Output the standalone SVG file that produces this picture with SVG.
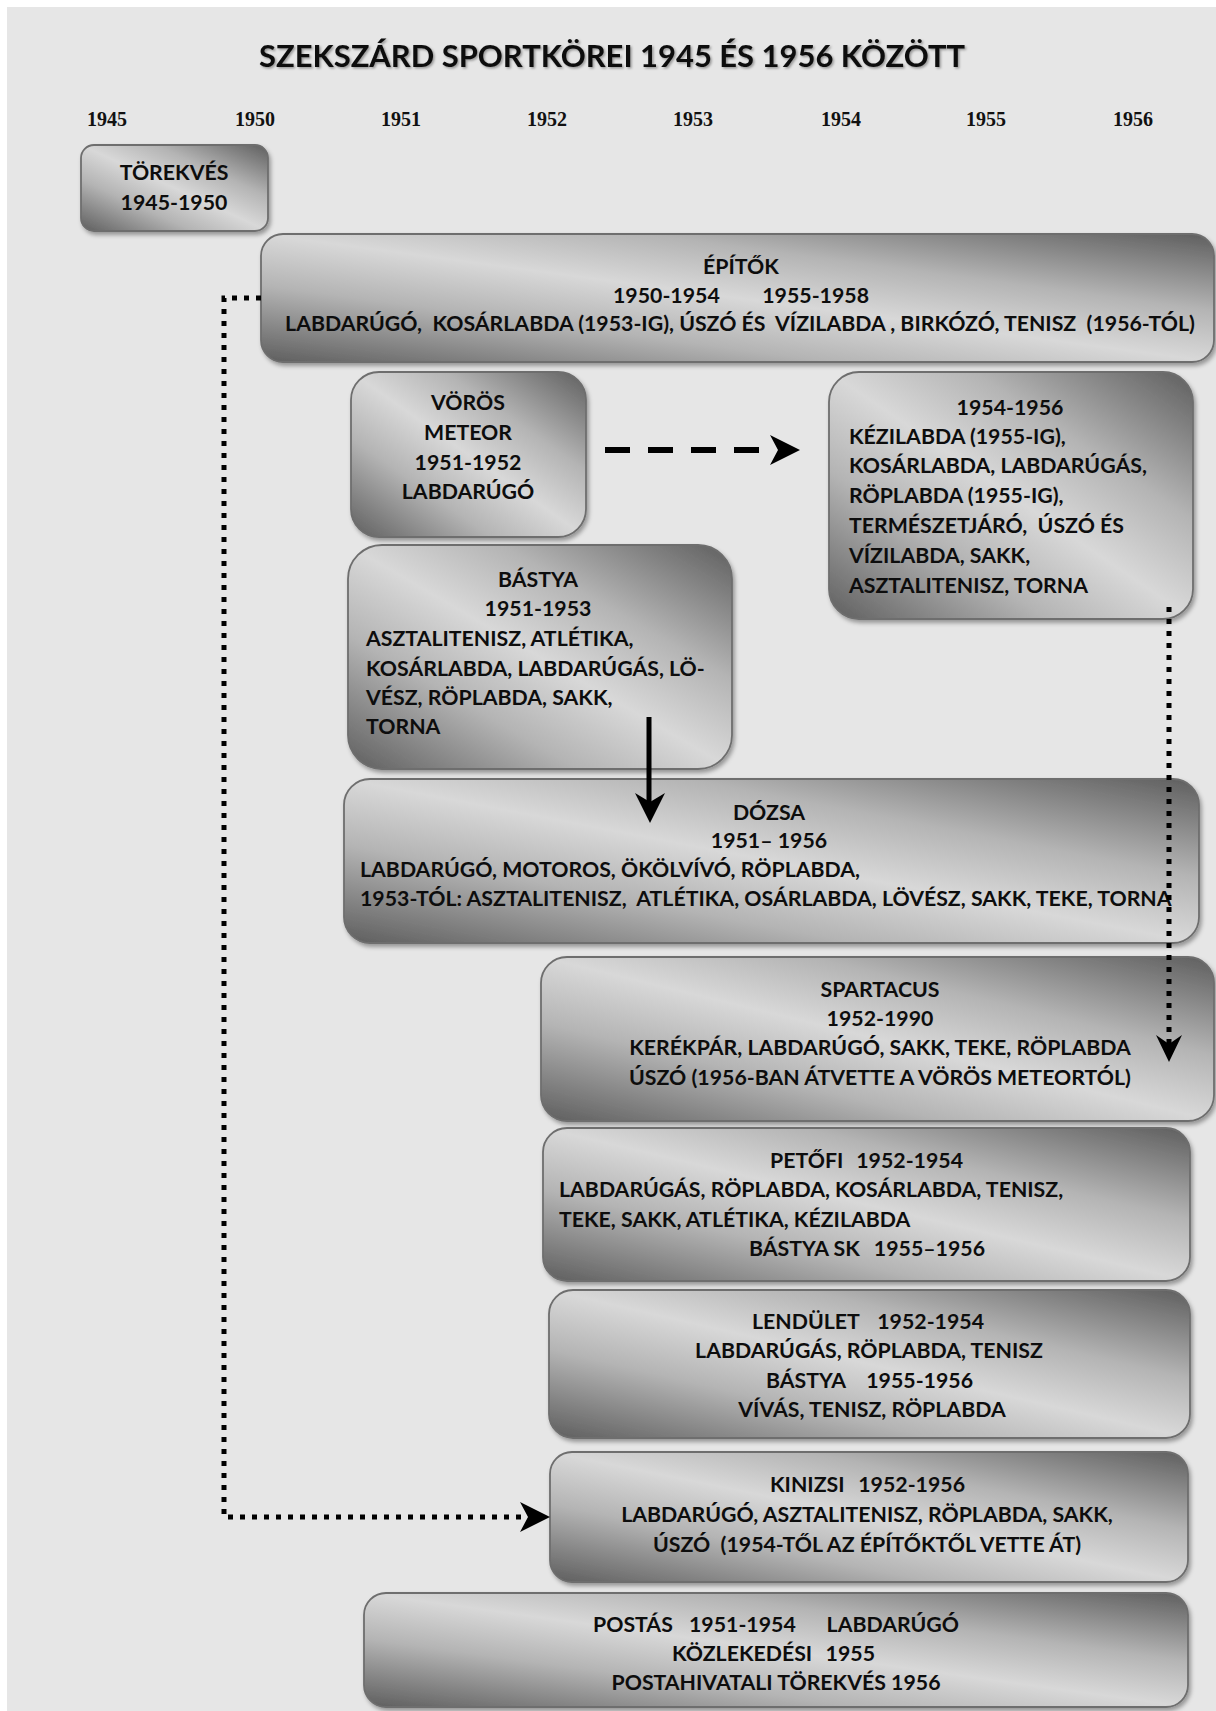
<svg xmlns="http://www.w3.org/2000/svg" width="1216" height="1711" viewBox="0 0 1216 1711">
<style>
.t{font-family:Lato,"Open Sans","Liberation Sans",sans-serif;font-weight:700;font-size:21.3px;fill:#0d0d0d}
.c{text-anchor:middle}
.e{text-anchor:end}
.yr{font-family:"Liberation Serif","Times New Roman",serif;font-weight:700;font-size:20px;fill:#111;text-anchor:middle}
.box{fill:url(#g);stroke:#6e6e6e;stroke-width:1.8;filter:url(#sh)}
.dot{fill:none;stroke:#000;stroke-width:5;stroke-dasharray:5 7}
</style>
<defs>
<linearGradient id="g" x1="1" y1="0" x2="0" y2="1">
<stop offset="0" stop-color="#5e5e5e"/>
<stop offset="0.3" stop-color="#b4b4b4"/>
<stop offset="0.5" stop-color="#d8d8d8"/>
<stop offset="0.7" stop-color="#b4b4b4"/>
<stop offset="1" stop-color="#5e5e5e"/>
</linearGradient>
<filter id="sh" x="-5%" y="-10%" width="110%" height="125%">
<feDropShadow dx="2" dy="3" stdDeviation="2" flood-color="#000" flood-opacity="0.35"/>
</filter>
<filter id="tsh" x="-5%" y="-30%" width="110%" height="160%">
<feDropShadow dx="1.5" dy="1.5" stdDeviation="1" flood-color="#000" flood-opacity="0.35"/>
</filter>
</defs>
<rect x="0" y="0" width="1216" height="1711" fill="#ffffff"/>
<rect x="7" y="7" width="1209" height="1704" fill="#e6e6e6"/>
<text class="t c" x="612" y="67" style="font-size:31px" textLength="706" lengthAdjust="spacingAndGlyphs" filter="url(#tsh)">SZEKSZÁRD SPORTKÖREI 1945 ÉS 1956 KÖZÖTT</text>
<g id="years">
<text class="yr" x="107" y="126">1945</text>
<text class="yr" x="255" y="126">1950</text>
<text class="yr" x="401" y="126">1951</text>
<text class="yr" x="547" y="126">1952</text>
<text class="yr" x="693" y="126">1953</text>
<text class="yr" x="841" y="126">1954</text>
<text class="yr" x="986" y="126">1955</text>
<text class="yr" x="1133" y="126">1956</text>
</g>
<g id="torekves">
<rect class="box" x="81" y="145" width="187" height="86" rx="13"/>
<text class="t c" x="174" y="180">TÖREKVÉS</text>
<text class="t c" x="174" y="210">1945-1950</text>
</g>
<g id="epitok">
<rect class="box" x="261" y="234" width="953" height="128" rx="22"/>
<text class="t c" x="741" y="274">ÉPÍTŐK</text>
<text class="t" x="613" y="303">1950-1954</text>
<text class="t e" x="869" y="303">1955-1958</text>
<text class="t c" x="740" y="331" xml:space="preserve">LABDARÚGÓ,  KOSÁRLABDA (1953-IG), ÚSZÓ ÉS  VÍZILABDA , BIRKÓZÓ, TENISZ  (1956-TÓL)</text>
</g>
<g id="voros-meteor">
<rect class="box" x="351" y="372" width="235" height="165" rx="28"/>
<text class="t c" x="468" y="410">VÖRÖS</text>
<text class="t c" x="468" y="440">METEOR</text>
<text class="t c" x="468" y="470">1951-1952</text>
<text class="t c" x="468" y="499">LABDARÚGÓ</text>
</g>
<g id="voros-meteor-2">
<rect class="box" x="829" y="372" width="364" height="247" rx="30"/>
<text class="t c" x="1010" y="415">1954-1956</text>
<text class="t" x="849" y="444">KÉZILABDA (1955-IG),</text>
<text class="t" x="849" y="473">KOSÁRLABDA, LABDARÚGÁS,</text>
<text class="t" x="849" y="503">RÖPLABDA (1955-IG),</text>
<text class="t" x="849" y="533" xml:space="preserve">TERMÉSZETJÁRÓ,  ÚSZÓ ÉS</text>
<text class="t" x="849" y="563">VÍZILABDA, SAKK,</text>
<text class="t" x="849" y="593">ASZTALITENISZ, TORNA</text>
</g>
<g id="bastya">
<rect class="box" x="348" y="545" width="384" height="224" rx="34"/>
<text class="t c" x="538" y="587">BÁSTYA</text>
<text class="t c" x="538" y="616">1951-1953</text>
<text class="t" x="366" y="646">ASZTALITENISZ, ATLÉTIKA,</text>
<text class="t" x="366" y="676">KOSÁRLABDA, LABDARÚGÁS, LÖ-</text>
<text class="t" x="366" y="705">VÉSZ, RÖPLABDA, SAKK,</text>
<text class="t" x="366" y="734">TORNA</text>
</g>
<g id="dozsa">
<rect class="box" x="344" y="779" width="855" height="164" rx="26"/>
<text class="t c" x="769" y="820">DÓZSA</text>
<text class="t c" x="769" y="848">1951– 1956</text>
<text class="t" x="360" y="877">LABDARÚGÓ, MOTOROS, ÖKÖLVÍVÓ, RÖPLABDA,</text>
<text class="t" x="360" y="906" xml:space="preserve">1953-TÓL: ASZTALITENISZ,  ATLÉTIKA, OSÁRLABDA, LÖVÉSZ, SAKK, TEKE, TORNA</text>
</g>
<g id="spartacus">
<rect class="box" x="541" y="957" width="673" height="164" rx="26"/>
<text class="t c" x="880" y="997">SPARTACUS</text>
<text class="t c" x="880" y="1026">1952-1990</text>
<text class="t c" x="880" y="1055">KERÉKPÁR, LABDARÚGÓ, SAKK, TEKE, RÖPLABDA</text>
<text class="t c" x="880" y="1085">ÚSZÓ (1956-BAN ÁTVETTE A VÖRÖS METEORTÓL)</text>
</g>
<g id="petofi">
<rect class="box" x="543" y="1128" width="647" height="153" rx="24"/>
<text class="t" x="770" y="1168">PETŐFI</text>
<text class="t e" x="963" y="1168">1952-1954</text>
<text class="t" x="559" y="1197">LABDARÚGÁS, RÖPLABDA, KOSÁRLABDA, TENISZ,</text>
<text class="t" x="559" y="1227">TEKE, SAKK, ATLÉTIKA, KÉZILABDA</text>
<text class="t" x="749" y="1256">BÁSTYA SK</text>
<text class="t e" x="985" y="1256">1955–1956</text>
</g>
<g id="lendulet">
<rect class="box" x="549" y="1290" width="641" height="148" rx="24"/>
<text class="t" x="752" y="1329">LENDÜLET</text>
<text class="t e" x="984" y="1329">1952-1954</text>
<text class="t c" x="869" y="1358">LABDARÚGÁS, RÖPLABDA, TENISZ</text>
<text class="t" x="766" y="1388">BÁSTYA</text>
<text class="t e" x="973" y="1388">1955-1956</text>
<text class="t c" x="872" y="1417">VÍVÁS, TENISZ, RÖPLABDA</text>
</g>
<g id="kinizsi">
<rect class="box" x="550" y="1452" width="638" height="130" rx="22"/>
<text class="t" x="770" y="1492">KINIZSI</text>
<text class="t e" x="965" y="1492">1952-1956</text>
<text class="t c" x="867" y="1522">LABDARÚGÓ, ASZTALITENISZ, RÖPLABDA, SAKK,</text>
<text class="t c" x="867" y="1552" xml:space="preserve">ÚSZÓ  (1954-TŐL AZ ÉPÍTŐKTŐL VETTE ÁT)</text>
</g>
<g id="postas">
<rect class="box" x="364" y="1593" width="824" height="114" rx="22"/>
<text class="t" x="593" y="1632">POSTÁS</text>
<text class="t" x="689" y="1632">1951-1954</text>
<text class="t e" x="959" y="1632">LABDARÚGÓ</text>
<text class="t" x="672" y="1661">KÖZLEKEDÉSI</text>
<text class="t e" x="875" y="1661">1955</text>
<text class="t c" x="776" y="1690">POSTAHIVATALI TÖREKVÉS 1956</text>
</g>
<g id="connectors">
<line x1="605" y1="450" x2="772" y2="450" stroke="#000" stroke-width="6" stroke-dasharray="25 18"/>
<polygon points="800,450 770,435 778,450 770,465" fill="#000"/>
<line x1="649" y1="717" x2="649" y2="805" stroke="#000" stroke-width="5"/>
<polygon points="650,823 635,793 650,802 665,793" fill="#000"/>
<polyline class="dot" points="261,298 224,298 224,1517 524,1517"/>
<polygon points="550,1517 520,1502 528,1517 520,1532" fill="#000"/>
<line class="dot" x1="1169" y1="607" x2="1169" y2="1044"/>
<polygon points="1169,1062 1156,1035 1169,1044 1182,1035" fill="#000"/>
</g>
</svg>
